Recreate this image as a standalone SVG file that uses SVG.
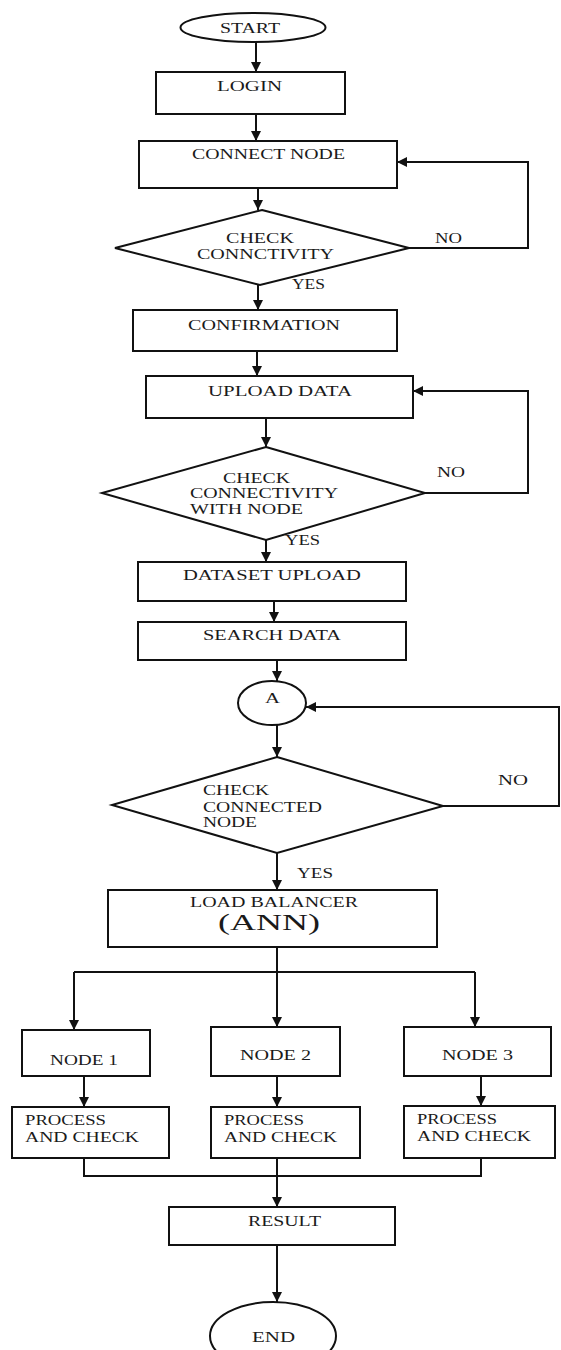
<svg xmlns="http://www.w3.org/2000/svg" width="561" height="1350" viewBox="0 0 561 1350">
  <style>
    .shape { fill: #ffffff; stroke: #111111; stroke-width: 2; }
    .wire { fill: none; stroke: #111111; stroke-width: 2; }
    .lbl { font-family: "Liberation Serif", "Times New Roman", serif; font-size: 14px; fill: #1a1a1a; }
    .big { font-family: "Liberation Serif", "Times New Roman", serif; font-size: 24px; fill: #1a1a1a; }
  </style>
  <defs>
    <marker id="arrow" viewBox="0 0 10 10" refX="10" refY="5" markerWidth="10" markerHeight="10" markerUnits="userSpaceOnUse" orient="auto">
      <path d="M0,0 L10,5 L0,10 z" fill="#111111"/>
    </marker>
  </defs>
  <rect width="561" height="1350" fill="#ffffff"/>

  <!-- connectors -->
  <g id="connectors">
    <path class="wire" d="M256,42 V72" marker-end="url(#arrow)"/>
    <path class="wire" d="M256,114 V141" marker-end="url(#arrow)"/>
    <path class="wire" d="M258,188 V210" marker-end="url(#arrow)"/>
    <path class="wire" d="M409,248 H528 V162 H397" marker-end="url(#arrow)"/>
    <path class="wire" d="M258,285 V310" marker-end="url(#arrow)"/>
    <path class="wire" d="M257,351 V376" marker-end="url(#arrow)"/>
    <path class="wire" d="M266,418 V447" marker-end="url(#arrow)"/>
    <path class="wire" d="M425,493 H528 V391 H413" marker-end="url(#arrow)"/>
    <path class="wire" d="M266,540 V562" marker-end="url(#arrow)"/>
    <path class="wire" d="M274,601 V622" marker-end="url(#arrow)"/>
    <path class="wire" d="M277,660 V681" marker-end="url(#arrow)"/>
    <path class="wire" d="M277,725 V757" marker-end="url(#arrow)"/>
    <path class="wire" d="M443,806 H559 V707 H306" marker-end="url(#arrow)"/>
    <path class="wire" d="M277,853 V890" marker-end="url(#arrow)"/>
    <path class="wire" d="M277,947 V972 M74,972 H475"/>
    <path class="wire" d="M74,972 V1030" marker-end="url(#arrow)"/>
    <path class="wire" d="M277,972 V1027" marker-end="url(#arrow)"/>
    <path class="wire" d="M475,972 V1027" marker-end="url(#arrow)"/>
    <path class="wire" d="M84,1076 V1107" marker-end="url(#arrow)"/>
    <path class="wire" d="M277,1076 V1107" marker-end="url(#arrow)"/>
    <path class="wire" d="M481,1076 V1106" marker-end="url(#arrow)"/>
    <path class="wire" d="M84,1158 V1176 H481 V1158"/>
    <path class="wire" d="M277,1158 V1207" marker-end="url(#arrow)"/>
    <path class="wire" d="M277,1245 V1302" marker-end="url(#arrow)"/>
  </g>

  <!-- edge labels -->
  <g id="edge-labels">
    <text class="lbl" x="435" y="243" textLength="27" lengthAdjust="spacingAndGlyphs">NO</text>
    <text class="lbl" x="292" y="289" textLength="33" lengthAdjust="spacingAndGlyphs">YES</text>
    <text class="lbl" x="437" y="477" textLength="28" lengthAdjust="spacingAndGlyphs">NO</text>
    <text class="lbl" x="285" y="545" textLength="35" lengthAdjust="spacingAndGlyphs">YES</text>
    <text class="lbl" x="498" y="785" textLength="30" lengthAdjust="spacingAndGlyphs">NO</text>
    <text class="lbl" x="297" y="878" textLength="36" lengthAdjust="spacingAndGlyphs">YES</text>
  </g>

  <g id="start">
    <ellipse class="shape" cx="253" cy="27.5" rx="72.5" ry="14.5"/>
    <text class="lbl" x="220" y="33" textLength="60" lengthAdjust="spacingAndGlyphs">START</text>
  </g>
  <g id="login">
    <rect class="shape" x="156" y="72" width="189" height="42"/>
    <text class="lbl" x="217" y="91" textLength="65" lengthAdjust="spacingAndGlyphs">LOGIN</text>
  </g>
  <g id="connect-node">
    <rect class="shape" x="139" y="141" width="258" height="47"/>
    <text class="lbl" x="192" y="159" textLength="153" lengthAdjust="spacingAndGlyphs">CONNECT NODE</text>
  </g>
  <g id="check-connectivity">
    <polygon class="shape" points="262,210 409,248 260,285 115,248"/>
    <text class="lbl" x="226" y="243" textLength="68" lengthAdjust="spacingAndGlyphs">CHECK</text>
    <text class="lbl" x="197" y="259" textLength="137" lengthAdjust="spacingAndGlyphs">CONNCTIVITY</text>
  </g>
  <g id="confirmation">
    <rect class="shape" x="133" y="310" width="264" height="41"/>
    <text class="lbl" x="188" y="330" textLength="152" lengthAdjust="spacingAndGlyphs">CONFIRMATION</text>
  </g>
  <g id="upload-data">
    <rect class="shape" x="146" y="376" width="267" height="42"/>
    <text class="lbl" x="208" y="396" textLength="144" lengthAdjust="spacingAndGlyphs">UPLOAD DATA</text>
  </g>
  <g id="check-connectivity-node">
    <polygon class="shape" points="266,447 425,493 266,540 102,493"/>
    <text class="lbl" x="223" y="483" textLength="67" lengthAdjust="spacingAndGlyphs">CHECK</text>
    <text class="lbl" x="190" y="498" textLength="148" lengthAdjust="spacingAndGlyphs">CONNECTIVITY</text>
    <text class="lbl" x="190" y="514" textLength="113" lengthAdjust="spacingAndGlyphs">WITH NODE</text>
  </g>
  <g id="dataset-upload">
    <rect class="shape" x="138" y="562" width="268" height="39"/>
    <text class="lbl" x="183" y="580" textLength="178" lengthAdjust="spacingAndGlyphs">DATASET UPLOAD</text>
  </g>
  <g id="search-data">
    <rect class="shape" x="138" y="622" width="268" height="38"/>
    <text class="lbl" x="203" y="640" textLength="138" lengthAdjust="spacingAndGlyphs">SEARCH DATA</text>
  </g>
  <g id="connector-a">
    <ellipse class="shape" cx="272" cy="703" rx="34" ry="22"/>
    <text class="lbl" x="265" y="703" textLength="15" lengthAdjust="spacingAndGlyphs">A</text>
  </g>
  <g id="check-connected-node">
    <polygon class="shape" points="277,757 443,806 277,853 112,805"/>
    <text class="lbl" x="203" y="795" textLength="66" lengthAdjust="spacingAndGlyphs">CHECK</text>
    <text class="lbl" x="203" y="812" textLength="119" lengthAdjust="spacingAndGlyphs">CONNECTED</text>
    <text class="lbl" x="203" y="827" textLength="54" lengthAdjust="spacingAndGlyphs">NODE</text>
  </g>
  <g id="load-balancer">
    <rect class="shape" x="108" y="890" width="329" height="57"/>
    <text class="lbl" x="190" y="907" textLength="168" lengthAdjust="spacingAndGlyphs">LOAD BALANCER</text>
    <text class="big" x="218" y="930" textLength="102" lengthAdjust="spacingAndGlyphs">(ANN)</text>
  </g>
  <g id="node-1">
    <rect class="shape" x="22" y="1030" width="128" height="46"/>
    <text class="lbl" x="50" y="1065" textLength="68" lengthAdjust="spacingAndGlyphs">NODE 1</text>
  </g>
  <g id="node-2">
    <rect class="shape" x="211" y="1027" width="129" height="49"/>
    <text class="lbl" x="240" y="1060" textLength="71" lengthAdjust="spacingAndGlyphs">NODE 2</text>
  </g>
  <g id="node-3">
    <rect class="shape" x="404" y="1027" width="147" height="49"/>
    <text class="lbl" x="442" y="1060" textLength="71" lengthAdjust="spacingAndGlyphs">NODE 3</text>
  </g>
  <g id="process-1">
    <rect class="shape" x="12" y="1107" width="157" height="51"/>
    <text class="lbl" x="25" y="1125" textLength="81" lengthAdjust="spacingAndGlyphs">PROCESS</text>
    <text class="lbl" x="25" y="1142" textLength="114" lengthAdjust="spacingAndGlyphs">AND CHECK</text>
  </g>
  <g id="process-2">
    <rect class="shape" x="211" y="1107" width="149" height="51"/>
    <text class="lbl" x="224" y="1125" textLength="80" lengthAdjust="spacingAndGlyphs">PROCESS</text>
    <text class="lbl" x="224" y="1142" textLength="113" lengthAdjust="spacingAndGlyphs">AND CHECK</text>
  </g>
  <g id="process-3">
    <rect class="shape" x="404" y="1106" width="151" height="52"/>
    <text class="lbl" x="417" y="1124" textLength="80" lengthAdjust="spacingAndGlyphs">PROCESS</text>
    <text class="lbl" x="417" y="1141" textLength="114" lengthAdjust="spacingAndGlyphs">AND CHECK</text>
  </g>
  <g id="result">
    <rect class="shape" x="169" y="1207" width="226" height="38"/>
    <text class="lbl" x="248" y="1226" textLength="73" lengthAdjust="spacingAndGlyphs">RESULT</text>
  </g>
  <g id="end">
    <ellipse class="shape" cx="273" cy="1336" rx="63" ry="34"/>
    <text class="lbl" x="252" y="1342" textLength="43" lengthAdjust="spacingAndGlyphs">END</text>
  </g>
</svg>
